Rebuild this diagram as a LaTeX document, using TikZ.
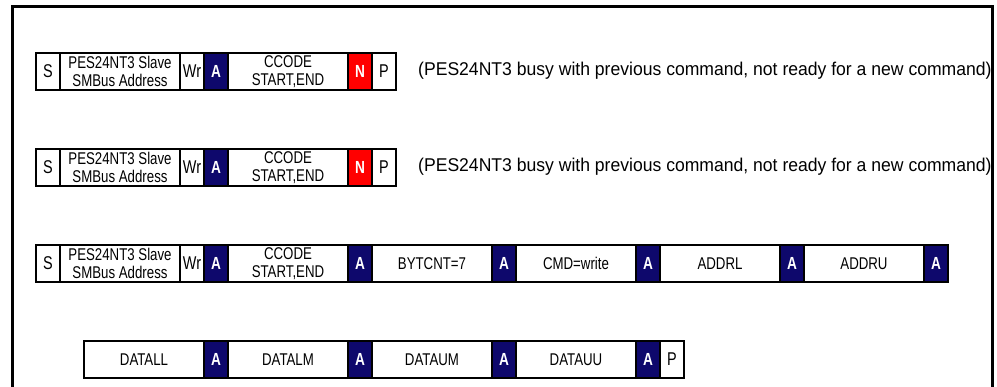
\documentclass[tikz,border=0pt]{standalone}
\usepackage{fontspec}
\setmainfont{Liberation Sans}
\newfontfamily\narrowfont{Liberation Sans}[FakeStretch=0.78]
\newfontfamily\notefont{Liberation Sans}[FakeStretch=0.95]
\usetikzlibrary{positioning}
\definecolor{acknavy}{RGB}{14,8,108}
\definecolor{nakred}{RGB}{255,0,0}

\begin{document}
\begin{tikzpicture}[x=1pt,y=-1pt,
	field/.style={draw,line width=2pt,minimum height=37pt,inner sep=0pt,outer sep=0pt,align=center,font=\narrowfont\fontsize{17}{17.5}\selectfont},
	bit/.style={field,minimum width=24pt,font=\narrowfont\fontsize{18.5}{18.5}\selectfont},
	byte/.style={field,minimum width=120pt},
	ack/.style={bit,fill=acknavy,text=white,font=\narrowfont\fontsize{17.5}{17.5}\selectfont\bfseries},
	nak/.style={ack,fill=nakred},
	note/.style={anchor=west,inner sep=0pt,font=\notefont\fontsize{18.5}{20}\selectfont}]
	\useasboundingbox (0,0) rectangle (997,387);
	\draw[line width=3pt] (12,387) -- (12,7) -- (992,7) -- (992,387);
	% busy, not acknowledged
	\foreach \r/\y in {1/53,2/149} {
		\node[bit,anchor=north west] (s\r) at (36,\y) {S};
		\node[byte,right=0pt of s\r] (addr\r) {PES24NT3 Slave\\SMBus Address};
		\node[bit,right=0pt of addr\r] (wr\r) {Wr};
		\node[ack,right=0pt of wr\r] (a\r) {A};
		\node[byte,right=0pt of a\r] (ccode\r) {CCODE\\START,END};
		\node[nak,right=0pt of ccode\r] (n\r) {N};
		\node[bit,right=0pt of n\r] (p\r) {P};
		\node[note] (busy\r) at (418,\y+18) {(PES24NT3 busy with previous command, not ready for a new command)};
	}
	% write command
	\node[bit,anchor=north west] (s3) at (36,245) {S};
	\node[byte,right=0pt of s3] (addr3) {PES24NT3 Slave\\SMBus Address};
	\node[bit,right=0pt of addr3] (wr3) {Wr};
	\node[ack,right=0pt of wr3] (a3) {A};
	\node[byte,right=0pt of a3] (ccode3) {CCODE\\START,END};
	\node[ack,right=0pt of ccode3] (a3c) {A};
	\node[byte,right=0pt of a3c] (bytcnt) {BYTCNT=7};
	\node[ack,right=0pt of bytcnt] (a3b) {A};
	\node[byte,right=0pt of a3b] (cmd) {CMD=write};
	\node[ack,right=0pt of cmd] (a3d) {A};
	\node[byte,right=0pt of a3d] (addrl) {ADDRL};
	\node[ack,right=0pt of addrl] (a3l) {A};
	\node[byte,right=0pt of a3l] (addru) {ADDRU};
	\node[ack,right=0pt of addru] (a3u) {A};
	% data bytes
	\node[byte,anchor=north west] (datall) at (84,341) {DATALL};
	\node[ack,right=0pt of datall] (a4ll) {A};
	\node[byte,right=0pt of a4ll] (datalm) {DATALM};
	\node[ack,right=0pt of datalm] (a4lm) {A};
	\node[byte,right=0pt of a4lm] (dataum) {DATAUM};
	\node[ack,right=0pt of dataum] (a4um) {A};
	\node[byte,right=0pt of a4um] (datauu) {DATAUU};
	\node[ack,right=0pt of datauu] (a4uu) {A};
	\node[bit,right=0pt of a4uu] (p4) {P};
\end{tikzpicture}
\end{document}
